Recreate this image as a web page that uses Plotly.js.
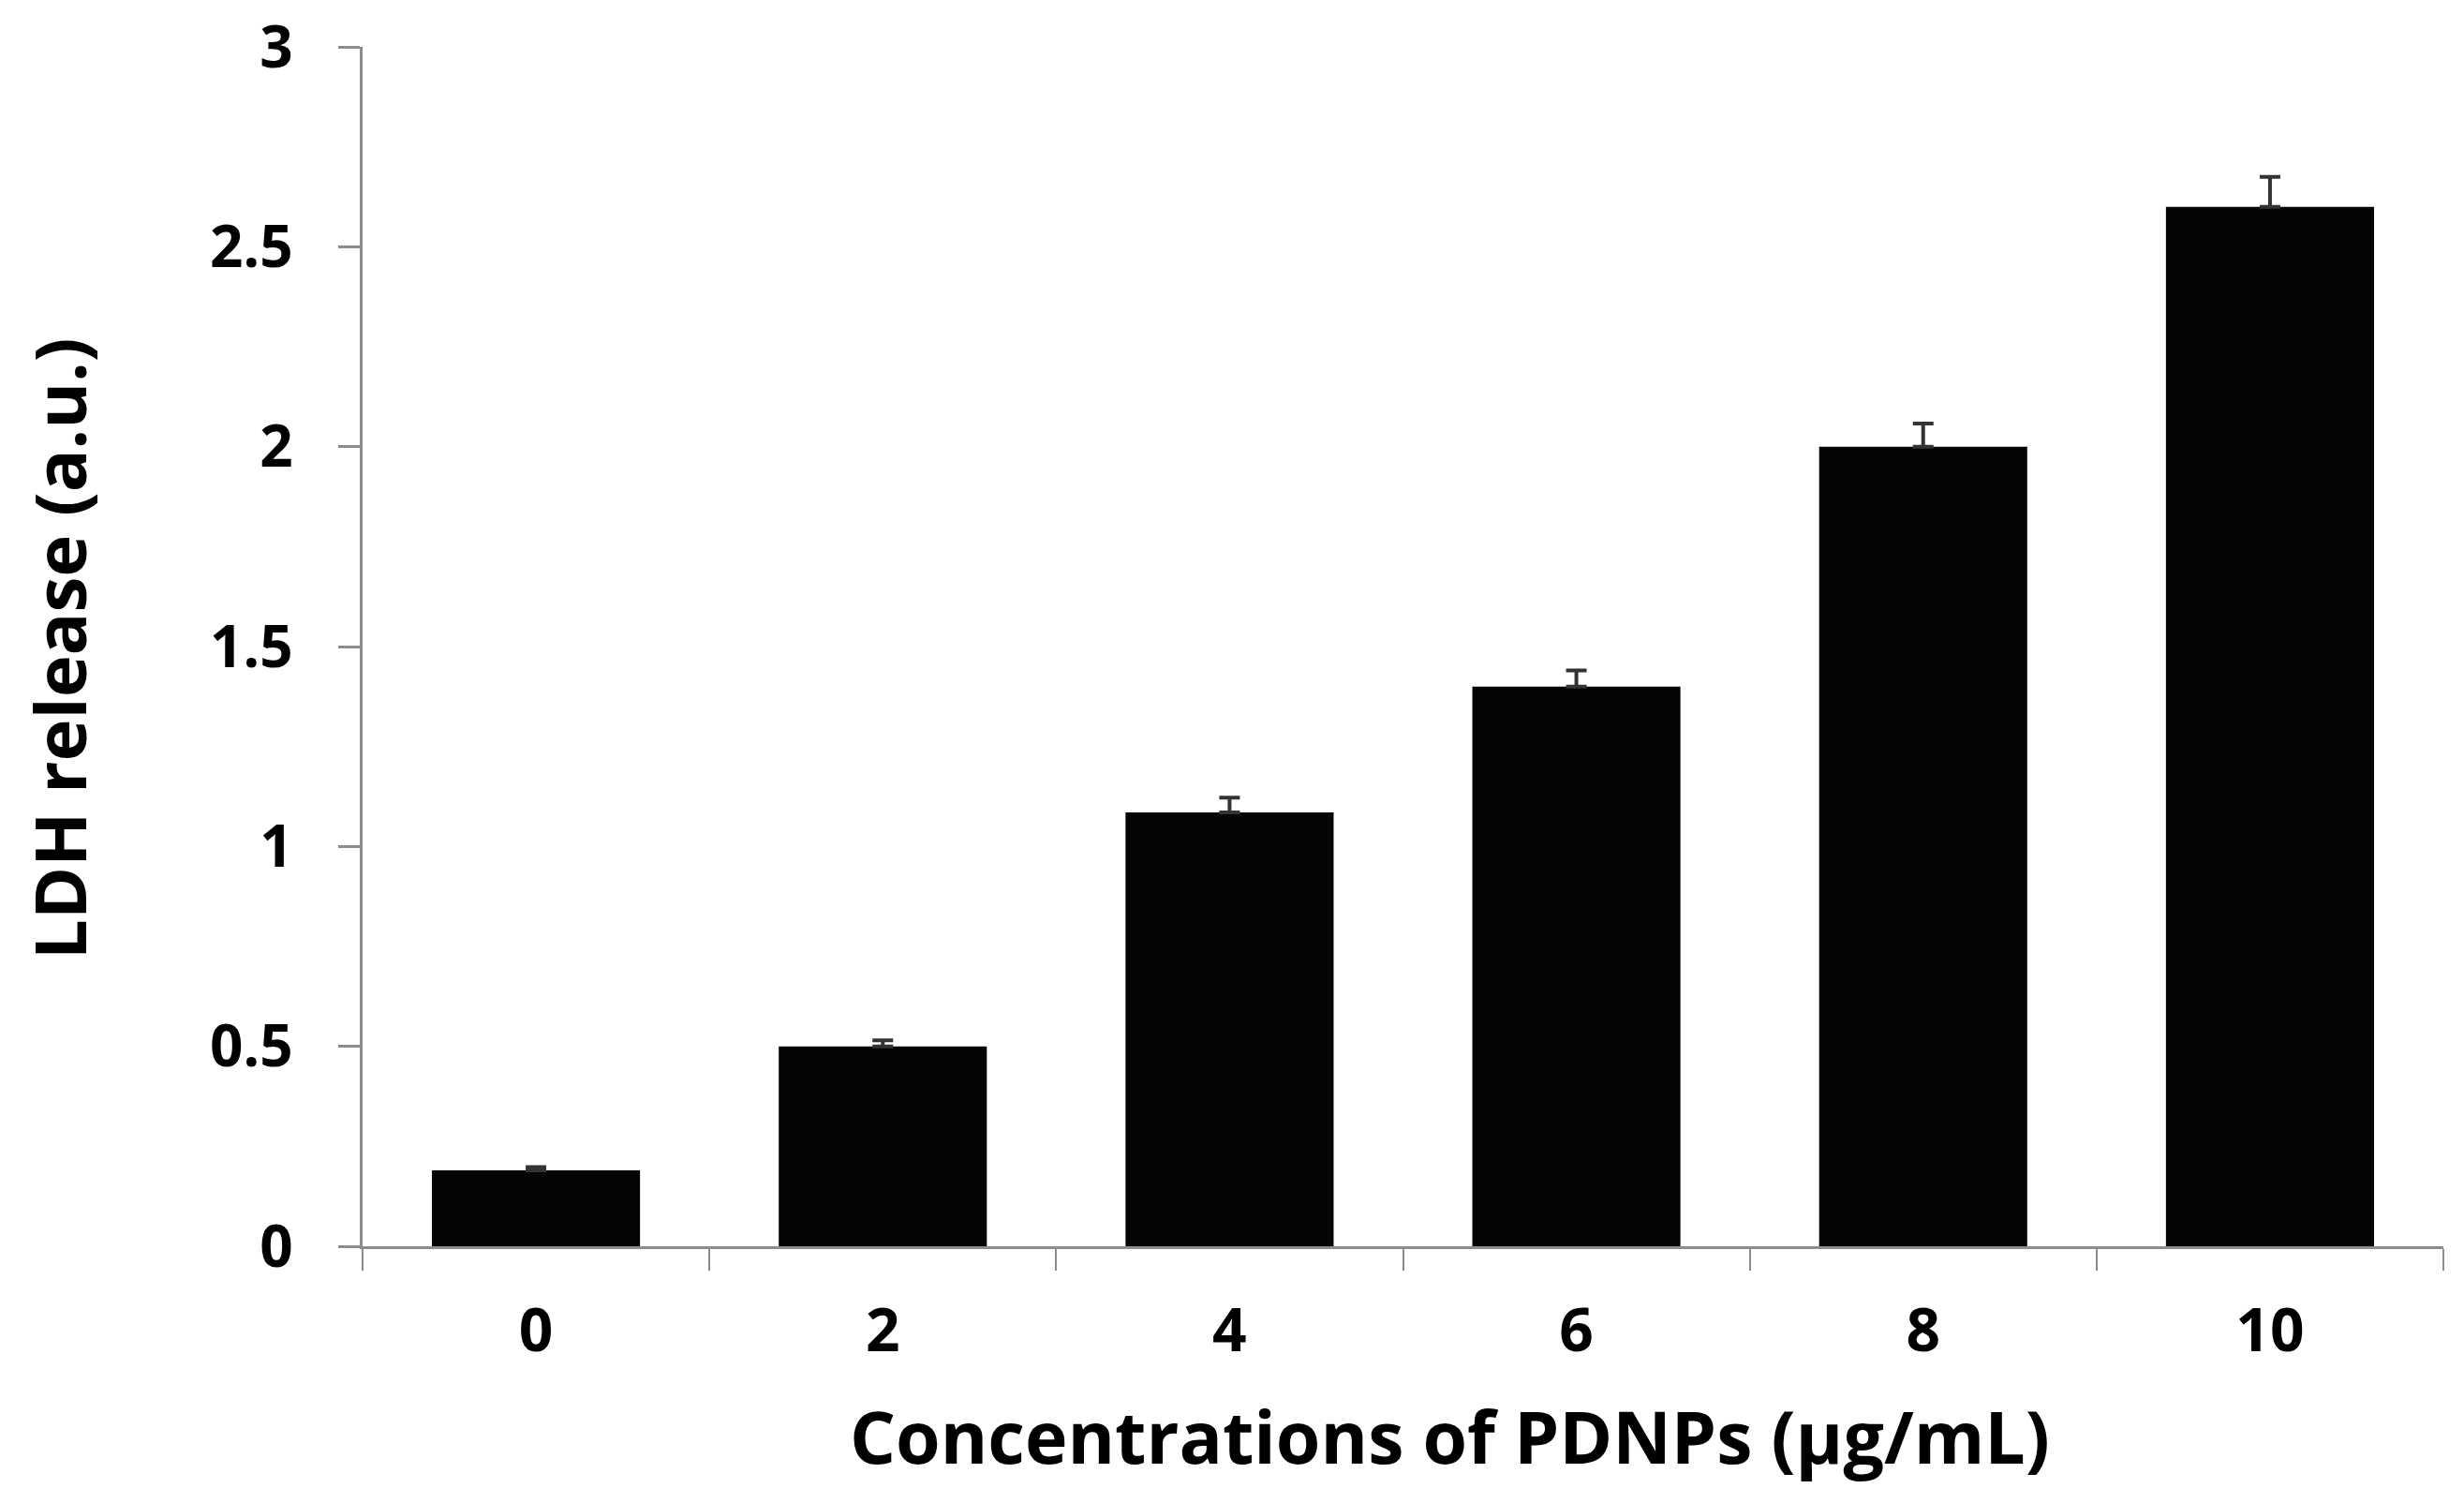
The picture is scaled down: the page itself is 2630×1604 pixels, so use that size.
<!DOCTYPE html>
<html>
<head>
<meta charset="utf-8">
<script src="https://cdn.plot.ly/plotly-3.0.1.min.js"></script>
<style>html,body{margin:0;padding:0;background:#fff;}#chart{width:2630px;height:1604px;}</style>
</head>
<body>
<div id="chart"></div>
<script>
const categories = ['0', '2', '4', '6', '8', '10'];
const ldhRelease = [0.19, 0.50, 1.085, 1.40, 2.00, 2.60];
const errorPlus = [0.008, 0.015, 0.037, 0.04, 0.058, 0.075];
const yTickValues = [0, 0.5, 1, 1.5, 2, 2.5, 3];
const yTickLabels = ['0', '0.5', '1', '1.5', '2', '2.5', '3'];
const xTitle = 'Concentrations of PDNPs (μg/mL)';
const yTitle = 'LDH release (a.u.)';

const FONT = '"Open Sans", "Noto Sans", sans-serif';
const TOP = 50, BOTTOM = 274, LEFT = 387, RIGHT = 22;
const plotH = 1604 - TOP - BOTTOM, plotW = 2630 - LEFT - RIGHT, zeroY = 1604 - BOTTOM;

const trace = {
  type: 'bar',
  x: categories,
  y: ldhRelease,
  marker: {color: '#030505', line: {width: 0}},
  error_y: {
    type: 'data',
    symmetric: false,
    array: errorPlus,
    arrayminus: errorPlus.map(() => 0),
    color: '#333333',
    thickness: 4,
    width: 11
  },
  hoverinfo: 'none'
};

const layout = {
  width: 2630,
  height: 1604,
  paper_bgcolor: '#ffffff',
  plot_bgcolor: '#ffffff',
  showlegend: false,
  bargap: 0.4,
  margin: {l: LEFT, r: RIGHT, t: TOP, b: BOTTOM, autoexpand: false},
  font: {family: FONT, color: '#000000'},
  xaxis: {
    type: 'category',
    tickson: 'boundaries',
    ticks: 'outside',
    ticklen: 23,
    tickwidth: 2,
    tickcolor: '#8c8c8c',
    showline: true,
    linecolor: '#8c8c8c',
    linewidth: 3,
    showgrid: false,
    zeroline: false,
    tickfont: {family: FONT, size: 64, color: '#000000', weight: 'bold'},
    ticklabelstandoff: 32,
    ticklabeloverflow: 'allow',
    automargin: false
  },
  yaxis: {
    range: [0, 3],
    tickvals: yTickValues,
    ticktext: yTickLabels,
    ticks: 'outside',
    ticklen: 23,
    tickwidth: 3,
    tickcolor: '#8c8c8c',
    showline: true,
    linecolor: '#8c8c8c',
    linewidth: 3,
    showgrid: false,
    zeroline: false,
    tickfont: {family: FONT, size: 62, color: '#000000', weight: 'bold'},
    ticklabelstandoff: 36,
    ticklabeloverflow: 'allow',
    automargin: false
  },
  annotations: [
    {
      text: xTitle,
      xref: 'paper', yref: 'paper',
      x: (1548 - LEFT) / plotW, y: -(1532 - zeroY) / plotH,
      xanchor: 'center', yanchor: 'middle',
      showarrow: false,
      font: {family: FONT, size: 77, color: '#000000', weight: 'bold'}
    },
    {
      text: yTitle,
      xref: 'paper', yref: 'paper',
      x: -(LEFT - 62) / plotW, y: (zeroY - 692) / plotH,
      xanchor: 'center', yanchor: 'middle',
      textangle: -90,
      showarrow: false,
      font: {family: FONT, size: 76, color: '#000000', weight: 'bold'}
    }
  ]
};

Plotly.newPlot('chart', [trace], layout, {staticPlot: true, displayModeBar: false});
</script>
</body>
</html>
